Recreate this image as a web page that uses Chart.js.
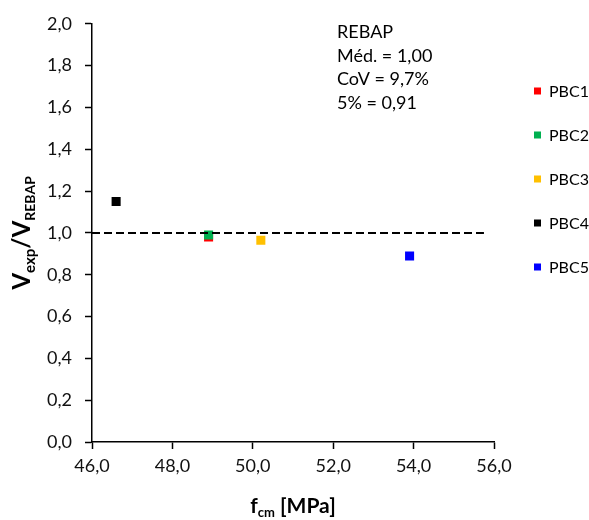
<!DOCTYPE html>
<html lang="pt">
  <head>
    <meta charset="UTF-8" />
    <title>Vexp/VREBAP vs fcm</title>
    <script src="https://cdn.jsdelivr.net/npm/chart.js"></script>
    <style>
      body { margin: 0; background: #fff; }
    </style>
  </head>
  <body>
    <canvas id="chart" width="589" height="520"></canvas>

    <script>
      // dados
      const categories = ["PBC1", "PBC2", "PBC3", "PBC4", "PBC5"];
      const fcm = [48.9, 48.9, 50.2, 46.6, 53.9];
      const ratio = [0.98, 0.99, 0.965, 1.15, 0.89];
      const colors = ["#FF0000", "#00B050", "#FFC000", "#000000", "#0000FF"];

      // linha de referência (tracejada)
      const refX = [46.0, 55.75];
      const refY = [1.0, 1.0];

      const xTicks = [46, 48, 50, 52, 54, 56];
      const yTicks = [0, 0.2, 0.4, 0.6, 0.8, 1.0, 1.2, 1.4, 1.6, 1.8, 2.0];
      const statsLines = ["REBAP", "Méd. = 1,00", "CoV = 9,7%", "5% = 0,91"];

      const FONT = "Lato, 'Open Sans', sans-serif";
      const fmt = (v) => v.toFixed(1).replace(".", ",");

      // séries posteriores desenhadas por cima (PBC2 sobre PBC1)
      const datasets = categories.map((name, i) => ({
        label: name,
        data: [{ x: fcm[i], y: ratio[i] }],
        backgroundColor: colors[i],
        borderColor: colors[i],
        pointStyle: "rect",
        pointRadius: 6.4,
        pointBorderWidth: 0,
        pointHoverRadius: 6.4,
        order: categories.length - i,
      }));
      datasets.push({
        label: "ref",
        type: "line",
        data: refX.map((x, i) => ({ x: x, y: refY[i] })),
        borderColor: "#000",
        borderWidth: 2,
        borderDash: [8, 4],
        pointRadius: 0,
        fill: false,
        order: 0,
      });

      // títulos dos eixos (com índices), caixa de texto e legenda
      const extras = {
        id: "extras",
        afterDraw(chart) {
          const { ctx, chartArea } = chart;
          ctx.save();
          ctx.fillStyle = "#000";

          // texto com índices
          function drawParts(parts, cx, cy) {
            let w = 0;
            parts.forEach((p) => {
              ctx.font = "bold " + p.size + "px " + FONT;
              w += ctx.measureText(p.t).width;
            });
            let x = cx - w / 2;
            ctx.textAlign = "left";
            ctx.textBaseline = "alphabetic";
            parts.forEach((p) => {
              ctx.font = "bold " + p.size + "px " + FONT;
              ctx.fillText(p.t, x, cy + p.dy);
              x += ctx.measureText(p.t).width;
            });
          }

          // eixo y
          ctx.save();
          ctx.translate(22, (chartArea.top + chartArea.bottom) / 2);
          ctx.rotate(-Math.PI / 2);
          drawParts(
            [
              { t: "V", size: 24, dy: 8 },
              { t: "exp", size: 15, dy: 13 },
              { t: "/V", size: 24, dy: 8 },
              { t: "REBAP", size: 14, dy: 13 },
            ],
            0,
            0
          );
          ctx.restore();

          // eixo x
          drawParts(
            [
              { t: "f", size: 21, dy: 0 },
              { t: "cm", size: 13, dy: 4 },
              { t: " [MPa]", size: 21, dy: 0 },
            ],
            (chartArea.left + chartArea.right) / 2,
            513
          );

          // caixa de estatísticas
          ctx.font = "18px " + FONT;
          ctx.textAlign = "left";
          ctx.textBaseline = "alphabetic";
          statsLines.forEach((line, i) => {
            ctx.fillText(line, 337, 38 + i * 23.5);
          });

          // legenda
          ctx.font = "16px " + FONT;
          ctx.textBaseline = "middle";
          categories.forEach((name, i) => {
            const y = 91 + i * 44;
            ctx.fillStyle = colors[i];
            ctx.fillRect(534, y - 3.5, 7, 7);
            ctx.fillStyle = "#000";
            ctx.fillText(name, 549, y + 1);
          });

          ctx.restore();
        },
      };

      const axisCommon = {
        type: "linear",
        grid: {
          display: true,
          drawOnChartArea: false,
          drawTicks: true,
          tickLength: 7,
          tickColor: "#000",
          tickWidth: 1.5,
        },
        border: { display: true, color: "#000", width: 1.5 },
      };

      new Chart(document.getElementById("chart"), {
        type: "scatter",
        data: { datasets: datasets },
        plugins: [extras],
        options: {
          responsive: false,
          animation: false,
          layout: { padding: { top: 21, right: 95, left: 0, bottom: 0 } },
          plugins: {
            legend: { display: false },
            tooltip: { enabled: false },
          },
          scales: {
            x: Object.assign({}, axisCommon, {
              min: 46,
              max: 56,
              afterBuildTicks: (s) => { s.ticks = xTicks.map((v) => ({ value: v })); },
              afterFit: (s) => { s.height = 78; },
              ticks: {
                padding: 6,
                color: "#111",
                font: { family: FONT, size: 18 },
                callback: (v) => fmt(v),
              },
            }),
            y: Object.assign({}, axisCommon, {
              min: 0,
              max: 2,
              afterBuildTicks: (s) => { s.ticks = yTicks.map((v) => ({ value: v })); },
              afterFit: (s) => { s.width = 92; },
              ticks: {
                padding: 13,
                color: "#111",
                font: { family: FONT, size: 18 },
                callback: (v) => fmt(v),
              },
            }),
          },
        },
      });
    </script>
  </body>
</html>
